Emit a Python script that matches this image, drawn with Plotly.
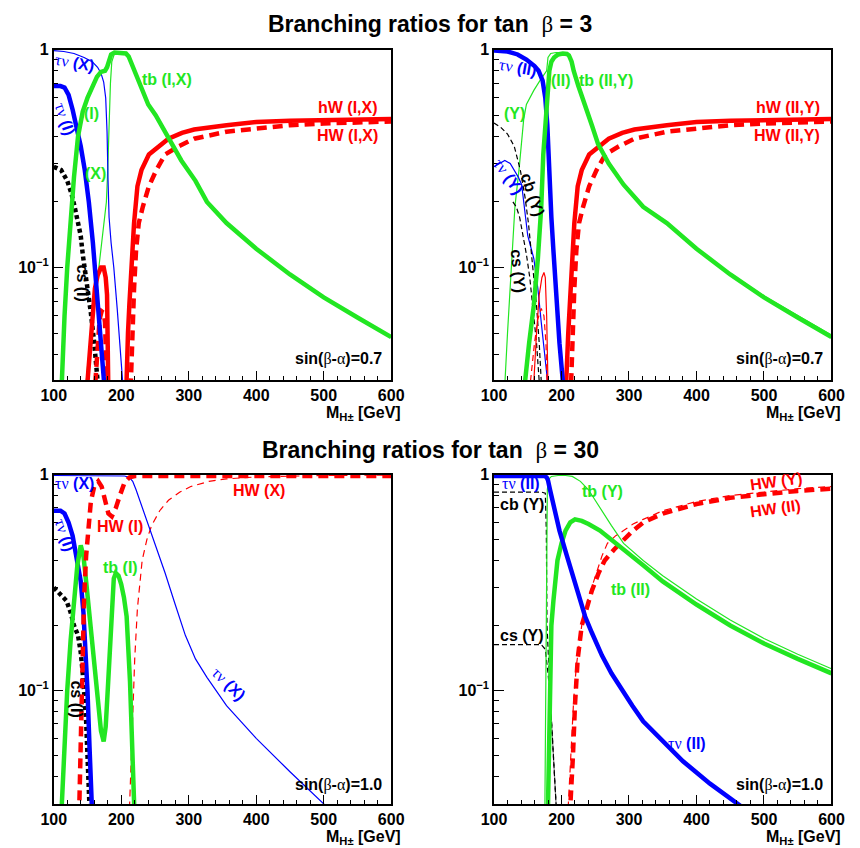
import plotly.graph_objects as go

# ---------------- data (M in GeV, BR) ----------------
# top-left: tan(beta)=3, types I and X
TL_tau_X_M = [100, 115, 130, 145, 157, 165, 170, 174, 177, 179, 180.5, 182, 185, 189, 194, 199, 204]
TL_tau_X_BR = [0.99, 0.98, 0.96, 0.92, 0.88, 0.83, 0.78, 0.71, 0.6, 0.42, 0.25, 0.17, 0.13, 0.1, 0.065, 0.04, 0.025]
TL_tau_I_M = [100, 110, 116, 122, 128, 134, 140, 146, 152, 158, 163, 168, 173, 178]
TL_tau_I_BR = [0.68, 0.68, 0.67, 0.62, 0.53, 0.44, 0.36, 0.28, 0.2, 0.13, 0.085, 0.055, 0.035, 0.022]
TL_tb_I_M = [111, 114, 116, 120, 124, 126, 130, 136, 143, 150, 157, 164, 170, 176, 179, 182, 185, 190, 200,
             207, 211, 216, 222, 230, 240, 251, 265, 289, 310, 327, 356, 400, 450, 500, 550, 600]
TL_tb_I_BR = [0.025, 0.045, 0.06, 0.1, 0.15, 0.19, 0.26, 0.4, 0.52, 0.6, 0.68, 0.75, 0.79, 0.8, 0.83, 0.9, 0.95,
              0.97, 0.97, 0.96, 0.93, 0.85, 0.75, 0.65, 0.56, 0.5, 0.42, 0.31, 0.25, 0.2, 0.16, 0.122, 0.093,
              0.073, 0.059, 0.048]
TL_tb_X_M = [146, 150, 155, 160, 165, 170, 175, 178, 180, 182, 184, 186, 190, 200, 207, 211, 216, 222, 230,
             240, 251, 265, 289, 310, 327, 356, 400, 450, 500, 550, 600]
TL_tb_X_BR = [0.025, 0.035, 0.048, 0.065, 0.09, 0.12, 0.16, 0.2, 0.28, 0.45, 0.7, 0.88, 0.96, 0.97, 0.96, 0.93,
              0.85, 0.75, 0.65, 0.56, 0.5, 0.42, 0.31, 0.25, 0.2, 0.16, 0.122, 0.093, 0.073, 0.059, 0.048]
TL_cs_I_M = [100, 111, 120, 126, 131, 136, 140, 143, 148, 155, 160, 165, 169]
TL_cs_I_BR = [0.29, 0.28, 0.25, 0.22, 0.19, 0.16, 0.14, 0.115, 0.09, 0.062, 0.045, 0.032, 0.022]
TL_hW_I_M = [148, 150, 154, 157, 161, 165, 170, 174, 177, 179, 180, 181, 182, 205, 207, 210, 212, 215, 219,
             224, 230, 241, 255, 270, 290, 308, 356, 400, 450, 500, 600]
TL_hW_I_BR = [0.025, 0.03, 0.045, 0.06, 0.08, 0.092, 0.1, 0.1, 0.09, 0.075, 0.05, 0.03, 0.015, 0.015, 0.03,
              0.05, 0.067, 0.1, 0.16, 0.236, 0.28, 0.33, 0.36, 0.39, 0.415, 0.43, 0.45, 0.465, 0.472, 0.476, 0.48]
TL_HW_I_M = [160, 162, 165, 168, 171, 174, 176, 178, 179.5, 181, 211, 213, 215, 217, 219, 222, 226, 232, 241,
             252, 265, 285, 308, 356, 400, 450, 500, 600]
TL_HW_I_BR = [0.025, 0.03, 0.045, 0.058, 0.063, 0.062, 0.056, 0.04, 0.025, 0.015, 0.015, 0.025, 0.04, 0.06,
              0.08, 0.12, 0.16, 0.19, 0.236, 0.28, 0.33, 0.36, 0.39, 0.42, 0.435, 0.45, 0.458, 0.468]

# top-right: tan(beta)=3, types II and Y
TR_tau_II_M = [100, 120, 135, 148, 160, 166, 172, 176, 179, 181, 183, 185, 188, 192, 197, 202, 206]
TR_tau_II_BR = [0.99, 0.98, 0.95, 0.9, 0.84, 0.8, 0.72, 0.6, 0.45, 0.3, 0.21, 0.17, 0.12, 0.075, 0.045, 0.03, 0.021]
TR_tau_Y_M = [100, 108, 116, 124, 130, 136, 141, 145, 150, 159, 165, 170, 175, 180, 184]
TR_tau_Y_BR = [0.29, 0.3, 0.31, 0.3, 0.28, 0.26, 0.24, 0.19, 0.14, 0.11, 0.08, 0.056, 0.04, 0.03, 0.022]
TR_tb_II_M = [144, 146, 152, 159, 165, 170, 173, 176, 178, 180, 182, 185, 189, 195, 202, 208, 211, 215, 218,
              225, 235, 245, 254, 270, 292, 321, 356, 400, 450, 500, 550, 600]
TR_tb_II_BR = [0.022, 0.03, 0.045, 0.067, 0.11, 0.19, 0.33, 0.45, 0.56, 0.68, 0.8, 0.88, 0.92, 0.95, 0.96,
               0.955, 0.94, 0.88, 0.8, 0.68, 0.56, 0.45, 0.37, 0.3, 0.24, 0.19, 0.16, 0.122, 0.093, 0.073,
               0.059, 0.048]
TR_tb_Y_M = [114, 116, 120, 125, 131, 137, 144, 148, 159, 168, 175, 178, 180, 184, 192, 202, 208, 211, 215,
             218, 225, 235, 245, 254, 270, 292, 321, 356, 400, 450, 500, 550, 600]
TR_tb_Y_BR = [0.022, 0.03, 0.05, 0.092, 0.19, 0.28, 0.48, 0.56, 0.65, 0.72, 0.77, 0.8, 0.92, 0.96, 0.97, 0.97,
              0.96, 0.945, 0.885, 0.805, 0.685, 0.565, 0.455, 0.375, 0.305, 0.243, 0.192, 0.162, 0.123,
              0.094, 0.074, 0.06, 0.049]
TR_cb_Y_M = [100, 110, 120, 130, 139, 146, 151, 156, 163, 167, 170, 173]
TR_cb_Y_BR = [0.46, 0.44, 0.41, 0.36, 0.28, 0.21, 0.16, 0.11, 0.067, 0.045, 0.03, 0.02]
TR_cs_Y_M = [128, 133, 138, 143, 148, 153, 158, 163, 167, 170]
TR_cs_Y_BR = [0.2, 0.19, 0.17, 0.14, 0.115, 0.09, 0.065, 0.045, 0.03, 0.02]
TR_hW_Y_M = [155, 159, 163, 167, 171, 174, 176, 178, 179.5, 181]
TR_hW_Y_BR = [0.022, 0.03, 0.05, 0.075, 0.09, 0.095, 0.09, 0.06, 0.035, 0.015]
TR_HW_Y_M = [152, 154, 160, 165, 170, 174, 177, 179, 181]
TR_HW_Y_BR = [0.022, 0.03, 0.045, 0.058, 0.065, 0.06, 0.045, 0.03, 0.015]
TR_hW_II_M = [203, 207, 210, 212, 215, 219, 224, 230, 241, 255, 270, 290, 308, 356, 400, 450, 500, 600]
TR_hW_II_BR = [0.02, 0.03, 0.05, 0.067, 0.1, 0.16, 0.236, 0.28, 0.33, 0.36, 0.39, 0.415, 0.43, 0.45, 0.465,
               0.472, 0.476, 0.48]
TR_HW_II_M = [211, 213, 215, 217, 219, 222, 226, 232, 241, 252, 265, 285, 308, 356, 400, 450, 500, 600]
TR_HW_II_BR = [0.015, 0.025, 0.04, 0.06, 0.08, 0.12, 0.16, 0.19, 0.236, 0.28, 0.33, 0.36, 0.39, 0.42, 0.435,
               0.45, 0.458, 0.468]

# bottom-left: tan(beta)=30, types I and X
BL_tau_X_M = [100, 150, 190, 205, 212, 217, 222, 230, 241, 253, 265, 280, 295, 310, 327, 356, 400, 450, 500, 520]
BL_tau_X_BR = [0.99, 0.99, 0.99, 0.985, 0.97, 0.93, 0.85, 0.72, 0.58, 0.45, 0.35, 0.25, 0.18, 0.14, 0.115,
               0.085, 0.06, 0.042, 0.03, 0.026]
BL_tau_I_M = [100, 110, 116, 122, 128, 135, 140, 144, 147, 150, 153, 156, 158]
BL_tau_I_BR = [0.68, 0.68, 0.66, 0.6, 0.52, 0.4, 0.32, 0.23, 0.16, 0.1, 0.055, 0.032, 0.022]
BL_cs_I_M = [100, 110, 119, 125, 130, 136, 140, 143, 146, 148, 150, 152, 154]
BL_cs_I_BR = [0.3, 0.28, 0.26, 0.23, 0.2, 0.18, 0.15, 0.12, 0.09, 0.072, 0.05, 0.034, 0.024]
BL_HW_I_M = [137, 139, 141, 143, 145, 148, 151, 155, 160, 166, 171, 176, 181, 186, 192, 198, 205, 212, 220, 600]
BL_HW_I_BR = [0.022, 0.045, 0.1, 0.18, 0.27, 0.42, 0.57, 0.75, 0.88, 0.93, 0.88, 0.76, 0.66, 0.64, 0.7, 0.8,
              0.92, 0.97, 0.985, 0.985]
BL_HW_X_M = [211, 214, 217, 220, 224, 231, 238, 245, 257, 270, 287, 303, 330, 356, 400, 450, 500, 600]
BL_HW_X_BR = [0.022, 0.04, 0.072, 0.14, 0.24, 0.4, 0.5, 0.58, 0.68, 0.76, 0.83, 0.88, 0.93, 0.955, 0.975,
              0.985, 0.99, 0.995]
BL_tb_I_M = [110, 113, 116, 120, 125, 130, 135, 140, 144, 148, 152, 156, 160, 165, 170, 174, 177, 180, 183,
             186, 189, 192, 196, 200, 204, 208, 211, 213, 215, 217, 219, 221]
BL_tb_I_BR = [0.022, 0.035, 0.055, 0.1, 0.17, 0.26, 0.38, 0.47, 0.42, 0.32, 0.24, 0.19, 0.14, 0.09, 0.065,
              0.058, 0.068, 0.1, 0.15, 0.25, 0.33, 0.35, 0.34, 0.31, 0.27, 0.22, 0.16, 0.11, 0.072, 0.045,
              0.03, 0.02]

# bottom-right: tan(beta)=30, types II and Y
BR_tau_II_M = [100, 150, 175, 178, 180, 183, 188, 197, 207, 217, 226, 235, 245, 260, 274, 290, 305, 321, 350,
               380, 420, 460, 480]
BR_tau_II_BR = [0.985, 0.985, 0.985, 0.97, 0.94, 0.85, 0.72, 0.55, 0.43, 0.34, 0.27, 0.22, 0.185, 0.145, 0.12,
                0.1, 0.085, 0.072, 0.058, 0.047, 0.037, 0.03, 0.027]
BR_cb_Y_M = [100, 170, 176, 177.5, 178.5, 180, 183, 186, 189, 192, 195]
BR_cb_Y_BR = [0.83, 0.83, 0.82, 0.55, 0.2, 0.15, 0.1, 0.065, 0.042, 0.03, 0.02]
BR_cs_Y_M = [100, 170, 176, 178, 180, 183, 186, 189, 192, 195]
BR_cs_Y_BR = [0.163, 0.163, 0.155, 0.14, 0.12, 0.095, 0.065, 0.042, 0.03, 0.02]
BR_tb_Y_M = [175, 176, 177, 178, 179, 181, 185, 195, 206, 216, 228, 240, 257, 274, 292, 321, 350, 400, 450,
             500, 550, 600]
BR_tb_Y_BR = [0.02, 0.05, 0.2, 0.6, 0.85, 0.95, 0.98, 0.99, 0.99, 0.98, 0.93, 0.85, 0.7, 0.58, 0.48, 0.4,
              0.34, 0.265, 0.212, 0.174, 0.147, 0.126]
BR_tb_II_M = [179, 181, 183, 185, 188, 191, 194, 200, 206, 213, 220, 230, 240, 257, 274, 292, 321, 350, 400,
              450, 500, 550, 600]
BR_tb_II_BR = [0.02, 0.05, 0.11, 0.2, 0.26, 0.33, 0.4, 0.48, 0.55, 0.6, 0.62, 0.61, 0.59, 0.55, 0.5, 0.45,
               0.38, 0.32, 0.25, 0.2, 0.165, 0.14, 0.12]
BR_HW_II_M = [211, 214, 217, 220, 224, 230, 235, 245, 255, 264, 278, 292, 306, 321, 350, 400, 450, 500, 550, 600]
BR_HW_II_BR = [0.022, 0.032, 0.05, 0.086, 0.14, 0.2, 0.23, 0.29, 0.35, 0.4, 0.45, 0.5, 0.55, 0.6, 0.66, 0.73,
               0.78, 0.81, 0.84, 0.86]
BR_HW_Y_M = [208, 211, 214, 218, 222, 226, 230, 240, 250, 260, 268, 280, 292, 306, 321, 350, 400, 450, 500,
             550, 600]
BR_HW_Y_BR = [0.022, 0.035, 0.055, 0.09, 0.13, 0.16, 0.2, 0.27, 0.34, 0.42, 0.48, 0.52, 0.55, 0.59, 0.62,
              0.68, 0.75, 0.8, 0.83, 0.86, 0.88]

x_ticks = [100, 200, 300, 400, 500, 600]
x_ticktext = ["100", "200", "300", "400", "500", "600"]
y_ticks = [0.1, 1]
y_ticktext = ["10<sup>\u22121</sup>", "1"]

# ---------------- figure ----------------
W, H = 860, 848
GREEN, BLUE, RED, BLACK = "#22e622", "#0000ff", "#ff0000", "#000000"
THICK, THIN = 4.5, 1.2

fig = go.Figure()

def add(ax, M, B, color, width, dash="solid"):
    fig.add_trace(go.Scatter(x=M, y=B, mode="lines", xaxis="x" + ax, yaxis="y" + ax,
                             line=dict(color=color, width=width, dash=dash),
                             hoverinfo="skip", showlegend=False))

# TL (axis "")
add("", TL_tb_X_M, TL_tb_X_BR, GREEN, THIN)
add("", TL_tau_X_M, TL_tau_X_BR, BLUE, THIN)
add("", TL_cs_I_M, TL_cs_I_BR, BLACK, THICK, "4px,3px")
add("", TL_HW_I_M, TL_HW_I_BR, RED, THICK, "10px,6px")
add("", TL_hW_I_M, TL_hW_I_BR, RED, THICK)
add("", TL_tau_I_M, TL_tau_I_BR, BLUE, THICK)
add("", TL_tb_I_M, TL_tb_I_BR, GREEN, THICK)
# TR
add("2", TR_tb_Y_M, TR_tb_Y_BR, GREEN, THIN)
add("2", TR_tau_Y_M, TR_tau_Y_BR, BLUE, THIN)
add("2", TR_cb_Y_M, TR_cb_Y_BR, BLACK, THIN, "5px,3px")
add("2", TR_cs_Y_M, TR_cs_Y_BR, BLACK, THIN, "5px,3px")
add("2", TR_hW_Y_M, TR_hW_Y_BR, RED, THIN)
add("2", TR_HW_Y_M, TR_HW_Y_BR, RED, THIN, "6px,4px")
add("2", TR_HW_II_M, TR_HW_II_BR, RED, THICK, "10px,6px")
add("2", TR_hW_II_M, TR_hW_II_BR, RED, THICK)
add("2", TR_tau_II_M, TR_tau_II_BR, BLUE, THICK)
add("2", TR_tb_II_M, TR_tb_II_BR, GREEN, THICK)
# BL
add("3", BL_HW_X_M, BL_HW_X_BR, RED, THIN, "7px,5px")
add("3", BL_tau_X_M, BL_tau_X_BR, BLUE, THIN)
add("3", BL_cs_I_M, BL_cs_I_BR, BLACK, THICK, "4px,3px")
add("3", BL_tau_I_M, BL_tau_I_BR, BLUE, THICK)
add("3", BL_tb_I_M, BL_tb_I_BR, GREEN, THICK)
add("3", BL_HW_I_M, BL_HW_I_BR, RED, THICK, "10px,6px")
# BR
add("4", BR_cb_Y_M, BR_cb_Y_BR, BLACK, THIN, "5px,3px")
add("4", BR_cs_Y_M, BR_cs_Y_BR, BLACK, THIN, "5px,3px")
add("4", BR_tb_Y_M, BR_tb_Y_BR, GREEN, THIN)
add("4", BR_HW_Y_M, BR_HW_Y_BR, RED, THIN, "7px,5px")
add("4", BR_HW_II_M, BR_HW_II_BR, RED, THICK, "10px,6px")
add("4", BR_tb_II_M, BR_tb_II_BR, GREEN, THICK)
add("4", BR_tau_II_M, BR_tau_II_BR, BLUE, THICK)

# panel geometry in pixels
LEFT = (42, 390)
RIGHT = (496, 844)
TOP = (42, 376)
BOT = (471, 804)

def xdom(p):
    return [p[0] / W, p[1] / W]

def ydom(p):
    return [1 - p[1] / H, 1 - p[0] / H]

minor_x = [v for v in range(120, 600, 20) if v % 100 != 0]
minor_y = [0.04, 0.05, 0.06, 0.07, 0.08, 0.09, 0.2, 0.3, 0.4, 0.5, 0.6, 0.7, 0.8, 0.9]
tickfont = dict(family="Liberation Sans", size=16, color="black", weight="bold")

def xaxis(dom, anchor):
    return dict(domain=xdom(dom), anchor=anchor, range=[100, 600], showgrid=False, zeroline=False,
                showline=True, linecolor="black", linewidth=1.5, mirror=True,
                ticks="inside", ticklen=10, tickwidth=1, tickcolor="black",
                tickmode="array", tickvals=x_ticks, ticktext=x_ticktext, tickfont=tickfont,
                minor=dict(tickmode="array", tickvals=minor_x, ticks="inside", ticklen=5,
                           tickcolor="black", tickwidth=1))

def yaxis(dom, anchor, lo):
    return dict(domain=ydom(dom), anchor=anchor, type="log", range=[lo, 0], showgrid=False,
                zeroline=False, showline=True, linecolor="black", linewidth=1.5, mirror=True,
                ticks="inside", ticklen=10, tickwidth=1, tickcolor="black",
                tickmode="array", tickvals=y_ticks, ticktext=y_ticktext, tickfont=tickfont,
                minor=dict(tickmode="array", tickvals=minor_y, ticks="inside", ticklen=5,
                           tickcolor="black", tickwidth=1))

fig.update_layout(
    width=W, height=H, margin=dict(l=0, r=0, t=0, b=0),
    paper_bgcolor="white", plot_bgcolor="white",
    xaxis=xaxis(LEFT, "y"), yaxis=yaxis(TOP, "x", -1.518),
    xaxis2=xaxis(RIGHT, "y2"), yaxis2=yaxis(TOP, "x2", -1.518),
    xaxis3=xaxis(LEFT, "y3"), yaxis3=yaxis(BOT, "x3", -1.528),
    xaxis4=xaxis(RIGHT, "y4"), yaxis4=yaxis(BOT, "x4", -1.528),
)

SYM = "<span style=\"font-family:Liberation Serif;font-weight:normal\">%s</span>"
TAU = SYM % "\u03c4\u03bd"

ann = []

def lab(px, py, text, color="black", size=16, angle=0, xa="center"):
    ann.append(dict(x=px / W, y=1 - py / H, xref="paper", yref="paper", text=text, showarrow=False,
                    xanchor=xa, yanchor="middle", textangle=angle,
                    font=dict(family="Liberation Sans", size=size, color=color, weight="bold")))

# titles
lab(430, 16, "Branching ratios for tan  " + SYM % "\u03b2" + " = 3", size=23)
lab(430, 446, "Branching ratios for tan  " + SYM % "\u03b2" + " = 30", size=23)
# axis titles
for xr in (LEFT[1], RIGHT[1]):
    lab(xr + 12, 409, "M<sub>H\u00b1</sub> [GeV]", size=16, xa="right")
    lab(xr + 12, 837, "M<sub>H\u00b1</sub> [GeV]", size=16, xa="right")

SIN = "sin(" + SYM % "\u03b2" + "-" + SYM % "\u03b1" + ")="
# TL labels
lab(159, 72, "tb (I,X)", GREEN)
lab(81, 107, "(I)", GREEN)
lab(85, 167, "(X)", GREEN)
lab(63, 55, TAU + " (X)", BLUE, angle=10)
lab(53, 112, TAU + " (I)", BLUE, angle=72)
lab(72, 278, "cs (I)", BLACK, angle=90)
lab(378, 100, "hW (I,X)", RED, xa="right")
lab(378, 129, "HW (I,X)", RED, xa="right")
lab(383, 354, SIN + "0.7", BLACK, xa="right")
# TR labels
lab(521, 60, TAU + " (II)", BLUE, angle=10)
lab(565, 73, "(II)", GREEN)
lab(612, 73, "tb (II,Y)", GREEN)
lab(517, 107, "(Y)", GREEN)
lab(511, 170, TAU + " (Y)", BLUE, angle=55)
lab(536, 188, "cb (Y)", BLACK, angle=72)
lab(521, 266, "cs (Y)", BLACK, angle=85)
lab(834, 100, "hW (II,Y)", RED, xa="right")
lab(834, 129, "HW (II,Y)", RED, xa="right")
lab(837, 354, SIN + "0.7", BLACK, xa="right")
# BL labels
lab(63, 480, TAU + " (X)", BLUE)
lab(53, 532, TAU + " (I)", BLUE, angle=72)
lab(110, 523, "HW (I)", RED)
lab(111, 565, "tb (I)", GREEN)
lab(66, 697, "cs (I)", BLACK, angle=90)
lab(222, 682, TAU + " (X)", BLUE, angle=45)
lab(254, 487, "HW (X)", RED)
lab(383, 784, SIN + "1.0", BLACK, xa="right")
# BR labels
lab(524, 480, TAU + " (II)", BLUE)
lab(525, 501, "cb (Y)", BLACK)
lab(608, 488, "tb (Y)", GREEN)
lab(637, 587, "tb (II)", GREEN)
lab(525, 633, "cs (Y)", BLACK)
lab(695, 742, TAU + " (II)", BLUE)
lab(787, 478, "HW (Y)", RED, angle=-8)
lab(786, 505, "HW (II)", RED, angle=-8)
lab(837, 784, SIN + "1.0", BLACK, xa="right")

fig.update_layout(annotations=ann)
fig.write_html("out.html", config={"displayModeBar": False},
               post_script="document.body.style.margin='0';document.body.style.overflow='hidden';")
